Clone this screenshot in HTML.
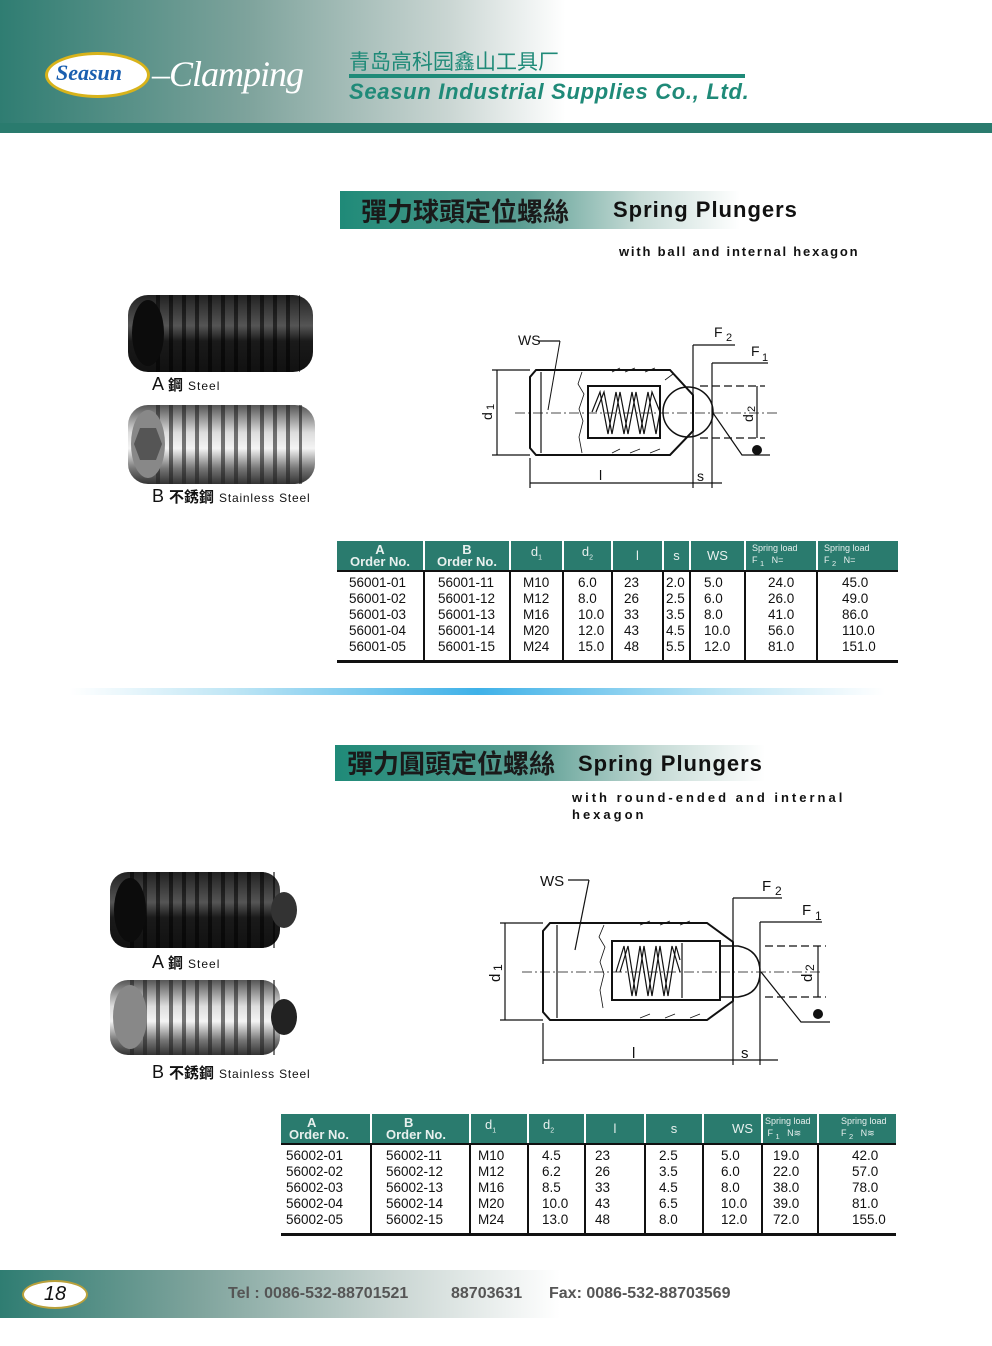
<!DOCTYPE html>
<html><head><meta charset="utf-8">
<style>
*{margin:0;padding:0;box-sizing:border-box}
body{width:992px;height:1346px;position:relative;background:#fff;font-family:"Liberation Sans","Noto Sans CJK TC",sans-serif;overflow:hidden}
.a{position:absolute;white-space:nowrap}
table{position:absolute;border-collapse:collapse;font-size:13.5px;color:#111}
th{background:#2a7b6e;color:#e8f0ee;font-weight:normal;height:30px;border-left:2px solid #fff;line-height:12px;font-size:13px}
th:first-child{border-left:none}
th.o{font-weight:bold;font-size:13px}
th.sl{font-size:9px;text-align:left;padding-left:6px}
td{border-left:2px solid #111;line-height:16px;vertical-align:top}
td:first-child{border-left:none}
tbody tr:first-child td{padding-top:3px}
tbody tr:last-child td{padding-bottom:5px;border-bottom:3px solid #111}
thead tr th{border-bottom:2px solid #111}
</style></head><body>
<!-- header -->
<div class="a" style="left:0;top:0;width:992px;height:123px;background:linear-gradient(90deg,#2f7d72 0%,#7ea39c 25%,#c9d5d2 45%,#fff 57%)"></div>
<div class="a" style="left:0;top:123px;width:992px;height:10px;background:#2a7b6e"></div>
<div class="a" style="left:45px;top:52px;width:105px;height:46px;border:3px solid #d8b31a;border-radius:50%;background:#fff"></div>
<div class="a" style="left:56px;top:60px;font:italic bold 22px 'Liberation Serif',serif;color:#1a5fb0">Seasun</div>
<div class="a" style="left:152px;top:53px;font:italic 36px 'Liberation Serif',serif;color:#fff;letter-spacing:-1px">–Clamping</div>
<div class="a" style="left:349px;top:46px;font-size:21px;color:#1f8a78;font-family:'Noto Sans CJK SC',sans-serif">青岛高科园鑫山工具厂</div>
<div class="a" style="left:349px;top:74px;width:396px;height:4px;background:#1f8a78"></div>
<div class="a" style="left:349px;top:79px;font:italic bold 22px 'Liberation Sans',sans-serif;color:#1f8a78;letter-spacing:0.7px">Seasun Industrial Supplies Co., Ltd.</div>

<!-- section 1 title -->
<div class="a" style="left:340px;top:191px;width:400px;height:38px;background:linear-gradient(90deg,#1f8a78 0%,#5a9d92 45%,#c6dbd6 75%,#fff 100%)"></div>
<div class="a" style="left:361px;top:192px;font:bold 26px 'Noto Sans CJK TC',sans-serif;color:#1a1a1a">彈力球頭定位螺絲</div>
<div class="a" style="left:613px;top:197px;font:bold 22px 'Liberation Sans',sans-serif;color:#111;letter-spacing:1px">Spring Plungers</div>
<div class="a" style="left:619px;top:244px;font:bold 13px 'Liberation Sans',sans-serif;color:#111;letter-spacing:1.8px">with ball and internal hexagon</div>

<!-- section 2 title -->
<div class="a" style="left:335px;top:745px;width:430px;height:36px;background:linear-gradient(90deg,#1f8a78 0%,#5a9d92 45%,#c6dbd6 75%,#fff 100%)"></div>
<div class="a" style="left:347px;top:744px;font:bold 26px 'Noto Sans CJK TC',sans-serif;color:#1a1a1a">彈力圓頭定位螺絲</div>
<div class="a" style="left:578px;top:751px;font:bold 22px 'Liberation Sans',sans-serif;color:#111;letter-spacing:1px">Spring Plungers</div>
<div class="a" style="left:572px;top:789px;font:bold 13px/17px 'Liberation Sans',sans-serif;color:#111;letter-spacing:3px;white-space:normal;width:300px">with round-ended and internal hexagon</div>

<!-- separator -->
<div class="a" style="left:70px;top:688px;width:815px;height:7px;background:linear-gradient(90deg,#fff 0%,#bfe6f5 20%,#3fb1e8 50%,#bfe6f5 80%,#fff 100%)"></div>

<!-- labels -->
<div class="a" style="left:152px;top:374px;font-size:18px;color:#111">A <b style="font-family:'Noto Sans CJK TC';font-size:15px">鋼</b> <span style="font-size:12px;letter-spacing:1px">Steel</span></div>
<div class="a" style="left:152px;top:486px;font-size:18px;color:#111">B <b style="font-family:'Noto Sans CJK TC';font-size:15px">不銹鋼</b> <span style="font-size:12px;letter-spacing:.8px">Stainless Steel</span></div>
<div class="a" style="left:152px;top:952px;font-size:18px;color:#111">A <b style="font-family:'Noto Sans CJK TC';font-size:15px">鋼</b> <span style="font-size:12px;letter-spacing:1px">Steel</span></div>
<div class="a" style="left:152px;top:1062px;font-size:18px;color:#111">B <b style="font-family:'Noto Sans CJK TC';font-size:15px">不銹鋼</b> <span style="font-size:12px;letter-spacing:.8px">Stainless Steel</span></div>

<svg class="a" style="left:0;top:0" width="992" height="1346" font-family="Liberation Sans,sans-serif">
<defs>
<linearGradient id="blk" x1="0" y1="0" x2="0" y2="1"><stop offset="0" stop-color="#222"/><stop offset=".4" stop-color="#555"/><stop offset=".6" stop-color="#1a1a1a"/><stop offset="1" stop-color="#111"/></linearGradient>
<linearGradient id="sil" x1="0" y1="0" x2="0" y2="1"><stop offset="0" stop-color="#555"/><stop offset=".35" stop-color="#ddd"/><stop offset=".55" stop-color="#f4f4f4"/><stop offset=".8" stop-color="#777"/><stop offset="1" stop-color="#333"/></linearGradient>
<pattern id="thr" width="13" height="10" patternUnits="userSpaceOnUse"><rect width="4" height="10" fill="#000" opacity=".55"/></pattern>
<pattern id="thr2" width="13" height="10" patternUnits="userSpaceOnUse"><rect width="4" height="10" fill="#222" opacity=".6"/></pattern>
</defs>
<!-- screws -->
<g><rect x="128" y="295" width="185" height="77" rx="20" fill="url(#blk)"/><rect x="150" y="295" width="150" height="77" fill="url(#thr)"/><ellipse cx="148" cy="333" rx="16" ry="33" fill="#0c0c0c"/></g>
<g><rect x="128" y="405" width="187" height="79" rx="20" fill="url(#sil)"/><rect x="150" y="405" width="152" height="79" fill="url(#thr2)"/><ellipse cx="148" cy="444" rx="17" ry="34" fill="#888"/><polygon points="140,428 156,428 162,444 156,460 140,460 134,444" fill="#555"/></g>
<g><rect x="110" y="872" width="170" height="76" rx="18" fill="url(#blk)"/><rect x="130" y="872" width="145" height="76" fill="url(#thr)"/><ellipse cx="130" cy="910" rx="16" ry="32" fill="#0c0c0c"/><ellipse cx="284" cy="910" rx="13" ry="18" fill="#333"/></g>
<g><rect x="110" y="980" width="170" height="75" rx="18" fill="url(#sil)"/><rect x="130" y="980" width="145" height="75" fill="url(#thr2)"/><ellipse cx="130" cy="1017" rx="17" ry="32" fill="#888"/><ellipse cx="284" cy="1017" rx="13" ry="18" fill="#222"/></g>

<!-- diagram 1 -->
<g stroke="#111" fill="none" stroke-width="1.2">
<polygon points="536,370 670,370 693,395 693,431 670,455 536,455 530,448 530,377" stroke-width="2"/>
<line x1="541" y1="372" x2="541" y2="453"/>
<rect x="588" y="386" width="72" height="52" stroke-width="2"/>
<polyline points="592,412 600,392 608,434 616,392 624,434 632,392 640,434 648,392 656,434 660,412"/>
<polyline points="596,412 604,392 612,434 620,392 628,434 636,392 644,434 652,392 660,412"/>
<circle cx="688" cy="412" r="25" stroke-width="1.5"/>
<line x1="515" y1="413" x2="780" y2="413" stroke-dasharray="10,3,2,3" stroke-width=".8"/>
<path d="M612,372 l8,-4 M625,372 l10,-4 M645,372 l10,-4 M665,380 l8,-6 M612,453 l8,-4 M630,453 l10,-4 M650,453 l10,-4" stroke-width=".8"/>
<path d="M560,341 L548,410" stroke-width="1"/><line x1="538" y1="341" x2="560" y2="341"/>
<path d="M582,372 l-4,12 l6,10 l-5,15 l4,12 l-4,16 l3,16" stroke-width=".8"/>
<line x1="693" y1="345" x2="693" y2="488"/><line x1="693" y1="345" x2="735" y2="345"/>
<line x1="712" y1="363" x2="712" y2="488"/><line x1="712" y1="363" x2="768" y2="363"/>
<line x1="700" y1="386" x2="765" y2="386" stroke-dasharray="8,4"/><line x1="700" y1="438" x2="765" y2="438" stroke-dasharray="8,4"/>
<line x1="757" y1="386" x2="757" y2="438"/>
<line x1="492" y1="370" x2="530" y2="370"/><line x1="492" y1="455" x2="530" y2="455"/><line x1="497" y1="370" x2="497" y2="455"/>
<line x1="530" y1="458" x2="530" y2="488"/><line x1="530" y1="483" x2="722" y2="483"/>
<polyline points="713,413 742,455 770,455"/>
</g>
<circle cx="757" cy="450" r="5" fill="#111"/>
<g font-size="14" fill="#111"><text x="518" y="345">WS</text><text x="714" y="337">F</text><text x="726" y="341" font-size="11">2</text><text x="751" y="356">F</text><text x="762" y="361" font-size="11">1</text><text x="599" y="480">l</text><text x="697" y="481">s</text>
<text transform="translate(492,420) rotate(-90)">d</text><text transform="translate(494,410) rotate(-90)" font-size="11">1</text>
<text transform="translate(753,422) rotate(-90)">d</text><text transform="translate(755,412) rotate(-90)" font-size="11">2</text></g>

<!-- diagram 2 -->
<g stroke="#111" fill="none" stroke-width="1.2">
<polygon points="550,923 707,923 733,942 733,1001 707,1020 550,1020 543,1012 543,931" stroke-width="2"/>
<line x1="557" y1="925" x2="557" y2="1018"/>
<rect x="612" y="941" width="108" height="59" stroke-width="2"/>
<line x1="682" y1="943" x2="682" y2="998"/>
<polyline points="616,972 624,946 632,996 640,946 648,996 656,946 664,996 672,946 680,972"/>
<polyline points="620,972 628,946 636,996 644,946 652,996 660,946 668,996 676,946 680,960"/>
<path d="M720,946 L738,946 Q760,950 760,972 Q760,994 738,997 L720,997" stroke-width="1.5"/>
<line x1="522" y1="972" x2="820" y2="972" stroke-dasharray="10,3,2,3" stroke-width=".8"/>
<path d="M640,925 l10,-4 M660,925 l10,-4 M680,925 l10,-4 M640,1018 l10,-4 M665,1018 l10,-4 M690,1018 l10,-4" stroke-width=".8"/>
<line x1="568" y1="880" x2="589" y2="880"/><line x1="589" y1="880" x2="575" y2="950"/>
<path d="M604,925 l-5,12 l6,10 l-5,15 l4,12 l-4,16 l3,18" stroke-width=".8"/>
<line x1="733" y1="898" x2="733" y2="1065"/><line x1="733" y1="898" x2="782" y2="898"/>
<line x1="760" y1="922" x2="760" y2="1065"/><line x1="760" y1="922" x2="822" y2="922"/>
<line x1="765" y1="946" x2="826" y2="946" stroke-dasharray="8,4"/><line x1="765" y1="997" x2="826" y2="997" stroke-dasharray="8,4"/>
<line x1="818" y1="946" x2="818" y2="997"/>
<line x1="500" y1="923" x2="543" y2="923"/><line x1="500" y1="1020" x2="543" y2="1020"/><line x1="505" y1="923" x2="505" y2="1020"/>
<line x1="543" y1="1023" x2="543" y2="1064"/><line x1="543" y1="1060" x2="778" y2="1060"/>
<polyline points="761,972 801,1022 830,1022"/>
</g>
<circle cx="818" cy="1014" r="5" fill="#111"/>
<g font-size="15" fill="#111"><text x="540" y="886">WS</text><text x="762" y="891">F</text><text x="775" y="895" font-size="12">2</text><text x="802" y="915">F</text><text x="815" y="920" font-size="12">1</text><text x="632" y="1058">l</text><text x="741" y="1058">s</text>
<text transform="translate(500,982) rotate(-90)">d</text><text transform="translate(502,971) rotate(-90)" font-size="12">1</text>
<text transform="translate(812,982) rotate(-90)">d</text><text transform="translate(814,971) rotate(-90)" font-size="12">2</text></g>
</svg>

<!-- table 1 -->
<table style="left:337px;top:541px;width:561px">
<colgroup><col style="width:87px"><col style="width:86px"><col style="width:53px"><col style="width:49px"><col style="width:51px"><col style="width:27px"><col style="width:55px"><col style="width:72px"><col style="width:81px"></colgroup>
<thead><tr><th class="o">A<br>Order No.</th><th class="o">B<br>Order No.</th><th>d<sub style="font-size:7px">1</sub></th><th>d<sub style="font-size:7px">2</sub></th><th>l</th><th>s</th><th>WS</th><th class="sl">Spring load<br>F <sub>1</sub> &nbsp; N=</th><th class="sl">Spring load<br>F <sub>2</sub> &nbsp; N=</th></tr></thead>
<tbody>
<tr><td style="padding-left:12px">56001-01</td><td style="padding-left:13px">56001-11</td><td style="padding-left:12px">M10</td><td style="padding-left:14px">6.0</td><td style="padding-left:11px">23</td><td style="padding-left:2px">2.0</td><td style="padding-left:13px">5.0</td><td style="padding-left:22px">24.0</td><td style="padding-left:24px">45.0</td></tr>
<tr><td style="padding-left:12px">56001-02</td><td style="padding-left:13px">56001-12</td><td style="padding-left:12px">M12</td><td style="padding-left:14px">8.0</td><td style="padding-left:11px">26</td><td style="padding-left:2px">2.5</td><td style="padding-left:13px">6.0</td><td style="padding-left:22px">26.0</td><td style="padding-left:24px">49.0</td></tr>
<tr><td style="padding-left:12px">56001-03</td><td style="padding-left:13px">56001-13</td><td style="padding-left:12px">M16</td><td style="padding-left:14px">10.0</td><td style="padding-left:11px">33</td><td style="padding-left:2px">3.5</td><td style="padding-left:13px">8.0</td><td style="padding-left:22px">41.0</td><td style="padding-left:24px">86.0</td></tr>
<tr><td style="padding-left:12px">56001-04</td><td style="padding-left:13px">56001-14</td><td style="padding-left:12px">M20</td><td style="padding-left:14px">12.0</td><td style="padding-left:11px">43</td><td style="padding-left:2px">4.5</td><td style="padding-left:13px">10.0</td><td style="padding-left:22px">56.0</td><td style="padding-left:24px">110.0</td></tr>
<tr><td style="padding-left:12px">56001-05</td><td style="padding-left:13px">56001-15</td><td style="padding-left:12px">M24</td><td style="padding-left:14px">15.0</td><td style="padding-left:11px">48</td><td style="padding-left:2px">5.5</td><td style="padding-left:13px">12.0</td><td style="padding-left:22px">81.0</td><td style="padding-left:24px">151.0</td></tr>
</tbody></table>

<!-- table 2 -->
<table style="left:281px;top:1114px;width:615px">
<colgroup><col style="width:90px"><col style="width:99px"><col style="width:58px"><col style="width:57px"><col style="width:60px"><col style="width:58px"><col style="width:59px"><col style="width:56px"><col style="width:78px"></colgroup>
<thead><tr><th class="o" style="text-align:left;padding-left:8px">&nbsp;&nbsp;&nbsp;&nbsp;&nbsp;A<br>Order No.</th><th class="o" style="text-align:left;padding-left:14px">&nbsp;&nbsp;&nbsp;&nbsp;&nbsp;B<br>Order No.</th><th style="text-align:left;padding-left:14px">d<sub style="font-size:7px">1</sub></th><th style="text-align:left;padding-left:14px">d<sub style="font-size:7px">2</sub></th><th>l</th><th>s</th><th style="text-align:right;padding-right:8px">WS</th><th class="sl" style="padding-left:2px">Spring load<br>&nbsp;F <sub>1</sub> &nbsp; N≋</th><th class="sl" style="padding-left:22px">Spring load<br>F <sub>2</sub> &nbsp; N≋</th></tr></thead>
<tbody>
<tr><td style="padding-left:5px">56002-01</td><td style="padding-left:14px">56002-11</td><td style="padding-left:7px">M10</td><td style="padding-left:13px">4.5</td><td style="padding-left:9px">23</td><td style="padding-left:13px">2.5</td><td style="padding-left:17px">5.0</td><td style="padding-left:10px">19.0</td><td style="padding-left:33px">42.0</td></tr>
<tr><td style="padding-left:5px">56002-02</td><td style="padding-left:14px">56002-12</td><td style="padding-left:7px">M12</td><td style="padding-left:13px">6.2</td><td style="padding-left:9px">26</td><td style="padding-left:13px">3.5</td><td style="padding-left:17px">6.0</td><td style="padding-left:10px">22.0</td><td style="padding-left:33px">57.0</td></tr>
<tr><td style="padding-left:5px">56002-03</td><td style="padding-left:14px">56002-13</td><td style="padding-left:7px">M16</td><td style="padding-left:13px">8.5</td><td style="padding-left:9px">33</td><td style="padding-left:13px">4.5</td><td style="padding-left:17px">8.0</td><td style="padding-left:10px">38.0</td><td style="padding-left:33px">78.0</td></tr>
<tr><td style="padding-left:5px">56002-04</td><td style="padding-left:14px">56002-14</td><td style="padding-left:7px">M20</td><td style="padding-left:13px">10.0</td><td style="padding-left:9px">43</td><td style="padding-left:13px">6.5</td><td style="padding-left:17px">10.0</td><td style="padding-left:10px">39.0</td><td style="padding-left:33px">81.0</td></tr>
<tr><td style="padding-left:5px">56002-05</td><td style="padding-left:14px">56002-15</td><td style="padding-left:7px">M24</td><td style="padding-left:13px">13.0</td><td style="padding-left:9px">48</td><td style="padding-left:13px">8.0</td><td style="padding-left:17px">12.0</td><td style="padding-left:10px">72.0</td><td style="padding-left:33px">155.0</td></tr>
</tbody></table>

<!-- footer -->
<div class="a" style="left:0;top:1270px;width:560px;height:48px;background:linear-gradient(90deg,#2f7d72 0%,#7ea39c 35%,#c9d5d2 70%,#fff 100%)"></div>
<div class="a" style="left:22px;top:1280px;width:66px;height:29px;border:2px solid #b9a03a;border-radius:50%;background:#fff;text-align:center;font:italic 20px/25px 'Liberation Sans',sans-serif;color:#111">18</div>
<div class="a" style="left:228px;top:1285px;font:bold 16px 'Liberation Sans',sans-serif;color:#555"><span>Tel : 0086-532-88701521</span><span style="position:absolute;left:223px">88703631</span><span style="position:absolute;left:321px">Fax: 0086-532-88703569</span></div>
</body></html>
